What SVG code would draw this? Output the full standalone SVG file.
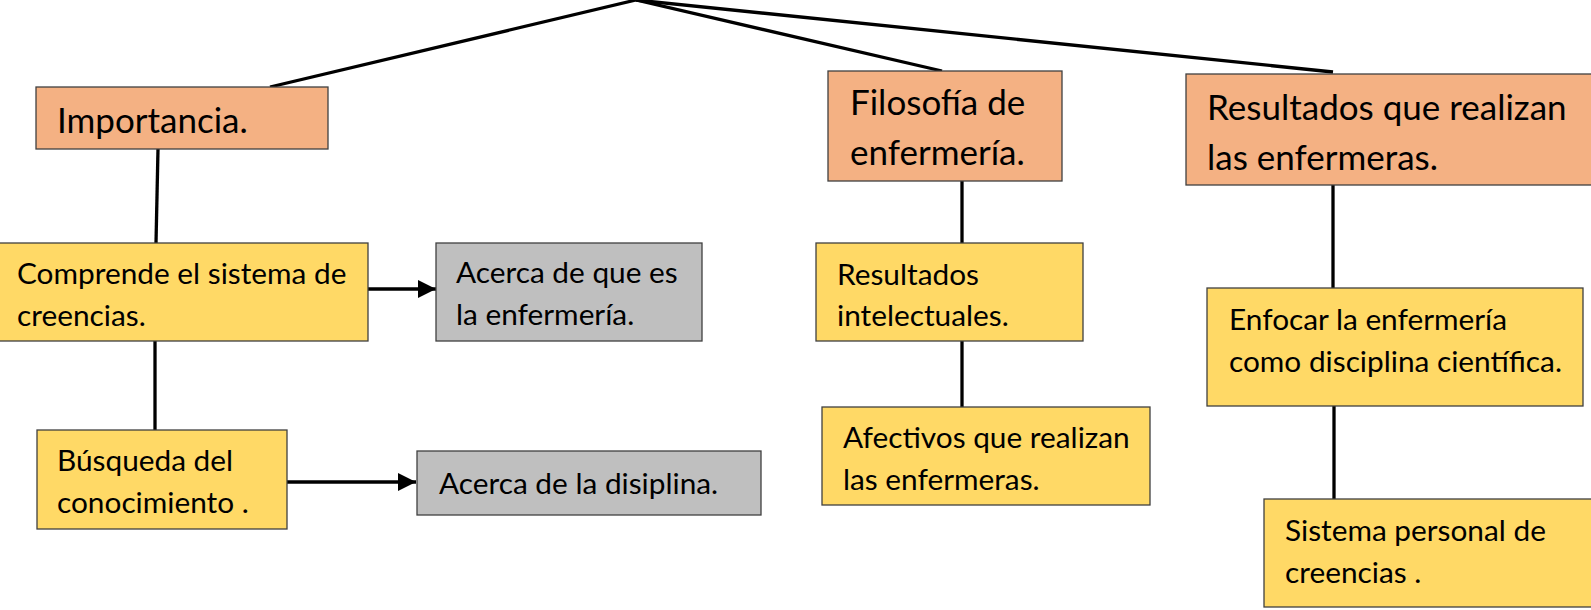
<svg xmlns="http://www.w3.org/2000/svg" width="1591" height="610" viewBox="0 0 1591 610">
<defs>
<style>
.box{stroke:#404040;stroke-width:1.3}
.or{fill:#F4B183}
.ye{fill:#FFD966}
.gr{fill:#BFBFBF}
text{font-family:Lato,"Open Sans","Liberation Sans",sans-serif;fill:#000}
.t{font-size:35px}
.s{font-size:29.8px}
.ln{stroke:#000;stroke-width:3.3;fill:none}
</style>
<marker id="ah" viewBox="0 0 10 10" refX="10" refY="5" markerWidth="5.5" markerHeight="5.5" markerUnits="strokeWidth" orient="auto">
<path d="M0,0 L10,5 L0,10 z" fill="#000"/>
</marker>
</defs>
<rect width="1591" height="610" fill="#fff"/>
<g id="connectors">
<line class="ln" x1="636" y1="0" x2="270" y2="87"/>
<line class="ln" x1="636" y1="0" x2="942" y2="71"/>
<line class="ln" x1="636" y1="0" x2="1333" y2="72"/>
<line class="ln" x1="158" y1="149" x2="156" y2="243"/>
<line class="ln" x1="155" y1="341" x2="155" y2="430"/>
<line class="ln" x1="962" y1="181" x2="962" y2="243"/>
<line class="ln" x1="962" y1="341" x2="962" y2="407"/>
<line class="ln" x1="1333" y1="185" x2="1333" y2="288"/>
<line class="ln" x1="1334" y1="406" x2="1334" y2="499"/>
<line class="ln" x1="368" y1="289" x2="436" y2="289" marker-end="url(#ah)"/>
<line class="ln" x1="287" y1="482" x2="416" y2="482" marker-end="url(#ah)"/>
</g>
<g id="importancia">
<rect class="box or" x="36" y="87" width="292" height="62"/>
<text class="t" x="57" y="133">Importancia.</text>
</g>
<g id="filosofia">
<rect class="box or" x="828" y="71" width="234" height="110"/>
<text class="t" x="850" y="115">Filosofía de</text>
<text class="t" x="850" y="165">enfermería.</text>
</g>
<g id="resultados">
<rect class="box or" x="1186" y="74" width="410" height="111"/>
<text class="t" x="1207" y="120">Resultados que realizan</text>
<text class="t" x="1207" y="170">las enfermeras.</text>
</g>
<g id="comprende">
<rect class="box ye" x="-2" y="243" width="370" height="98"/>
<text class="s" x="17" y="284">Comprende el sistema de</text>
<text class="s" x="17" y="326">creencias.</text>
</g>
<g id="acerca1">
<rect class="box gr" x="436" y="243" width="266" height="98"/>
<text class="s" x="456" y="283">Acerca de que es</text>
<text class="s" x="456" y="325">la enfermería.</text>
</g>
<g id="busqueda">
<rect class="box ye" x="37" y="430" width="250" height="99"/>
<text class="s" x="57" y="471">Búsqueda del</text>
<text class="s" x="57" y="513">conocimiento .</text>
</g>
<g id="acerca2">
<rect class="box gr" x="417" y="451" width="344" height="64"/>
<text class="s" x="439" y="494">Acerca de la disiplina.</text>
</g>
<g id="intelectuales">
<rect class="box ye" x="816" y="243" width="267" height="98"/>
<text class="s" x="837" y="285">Resultados</text>
<text class="s" x="837" y="326">intelectuales.</text>
</g>
<g id="afectivos">
<rect class="box ye" x="822" y="407" width="328" height="98"/>
<text class="s" x="843" y="448">Afectivos que realizan</text>
<text class="s" x="843" y="490">las enfermeras.</text>
</g>
<g id="enfocar">
<rect class="box ye" x="1207" y="288" width="376" height="118"/>
<text class="s" x="1229" y="330">Enfocar la enfermería</text>
<text class="s" x="1229" y="372">como disciplina científica.</text>
</g>
<g id="sistema">
<rect class="box ye" x="1264" y="499" width="340" height="108"/>
<text class="s" x="1285" y="541">Sistema personal de</text>
<text class="s" x="1285" y="583">creencias .</text>
</g>
</svg>
